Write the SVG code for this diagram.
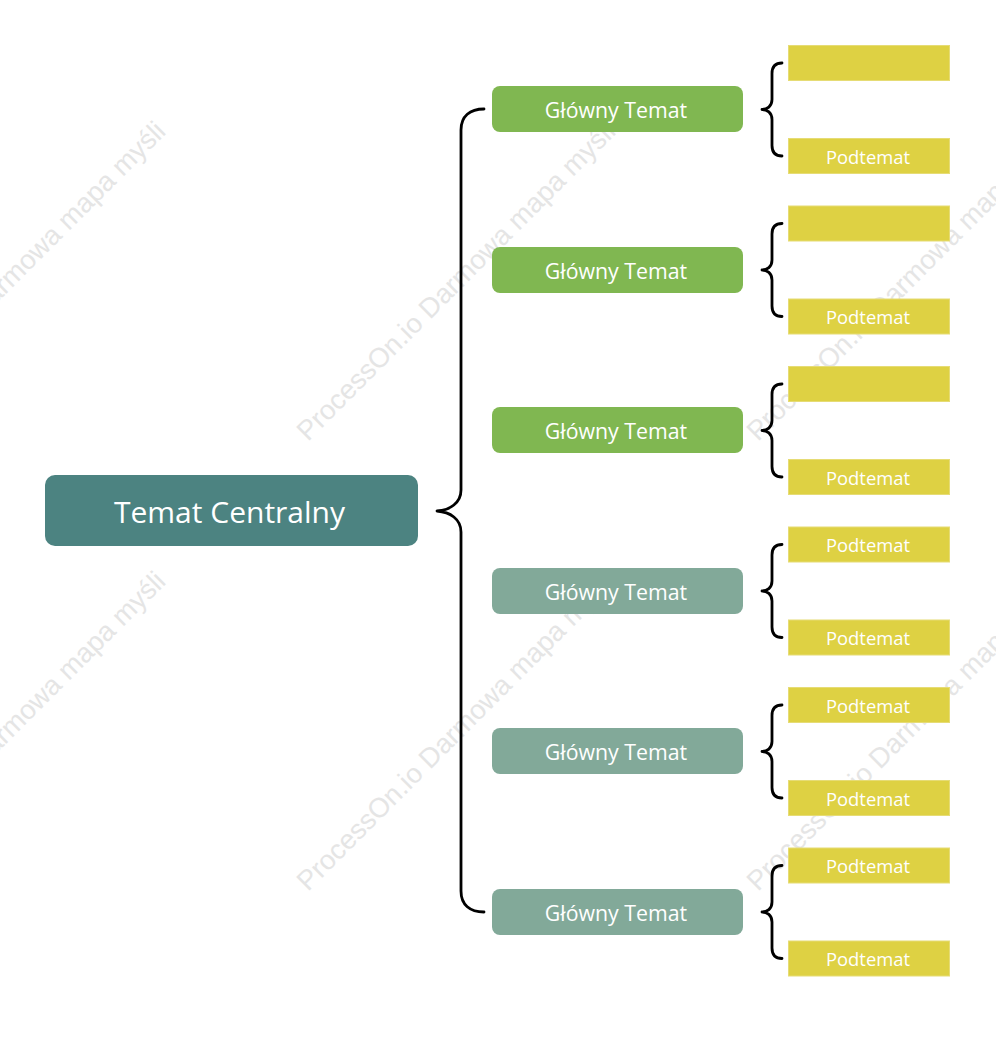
<svg xmlns="http://www.w3.org/2000/svg" xmlns:xlink="http://www.w3.org/1999/xlink" width="996" height="1037" viewBox="0 0 996 1037">
<style>
.wm{font-family:"Liberation Sans",Arial,sans-serif;font-size:27.5px;fill:#e5e5e5}
.central{fill:#4c8381}
.mainA{fill:#80b751}
.mainB{fill:#82a999}
.sub{fill:#ded143;stroke:#e6dc75;stroke-width:1}
.t{font-family:"Open Sans","Noto Sans",sans-serif;fill:#ffffff;text-anchor:middle;dominant-baseline:central}
.tc{font-size:30px}
.tm{font-size:21.3px}
.ts{font-size:18.4px}
.brace{fill:none;stroke:#000000;stroke-width:2.8;stroke-linecap:round;stroke-linejoin:round}
</style>
<defs>
<path id="sb" d="M782,-46.5 C775,-46.5 772,-43 772,-36 L772,-10 C772,-3 767,0 762,0 C767,0 772,3 772,10 L772,36 C772,43 775,46.5 782,46.5"/>
</defs>
<rect width="996" height="1037" fill="#ffffff"/>
<g id="watermarks">
<text class="wm" transform="translate(-142,442) rotate(-45)">ProcessOn.io Darmowa mapa myśli</text>
<text class="wm" transform="translate(308,442) rotate(-45)">ProcessOn.io Darmowa mapa myśli</text>
<text class="wm" transform="translate(758,442) rotate(-45)">ProcessOn.io Darmowa mapa myśli</text>
<text class="wm" transform="translate(-142,892) rotate(-45)">ProcessOn.io Darmowa mapa myśli</text>
<text class="wm" transform="translate(308,892) rotate(-45)">ProcessOn.io Darmowa mapa myśli</text>
<text class="wm" transform="translate(758,892) rotate(-45)">ProcessOn.io Darmowa mapa myśli</text>
</g>
<g id="connectors">
<path class="brace" d="M484,109 C470,109 461,116 461,130 L461,490 C461,503 450,510 437,511 C450,512 461,519 461,532 L461,891 C461,905 470,912 484,912"/>
<use class="brace" xlink:href="#sb" href="#sb" transform="translate(0,109.5)"/>
<use class="brace" xlink:href="#sb" href="#sb" transform="translate(0,270)"/>
<use class="brace" xlink:href="#sb" href="#sb" transform="translate(0,430.5)"/>
<use class="brace" xlink:href="#sb" href="#sb" transform="translate(0,591)"/>
<use class="brace" xlink:href="#sb" href="#sb" transform="translate(0,751.5)"/>
<use class="brace" xlink:href="#sb" href="#sb" transform="translate(0,912)"/>
</g>
<g id="central">
<rect class="central" x="45" y="475" width="373" height="71" rx="10"/>
<text class="t tc" x="229.5" y="511">Temat Centralny</text>
</g>
<g id="main1"><rect class="mainA" x="492" y="86" width="251" height="46" rx="8"/><text class="t tm" x="616" y="109">Główny Temat</text></g>
<g id="main2"><rect class="mainA" x="492" y="247" width="251" height="46" rx="8"/><text class="t tm" x="616" y="270">Główny Temat</text></g>
<g id="main3"><rect class="mainA" x="492" y="407" width="251" height="46" rx="8"/><text class="t tm" x="616" y="430">Główny Temat</text></g>
<g id="main4"><rect class="mainB" x="492" y="568" width="251" height="46" rx="8"/><text class="t tm" x="616" y="591">Główny Temat</text></g>
<g id="main5"><rect class="mainB" x="492" y="728" width="251" height="46" rx="8"/><text class="t tm" x="616" y="751">Główny Temat</text></g>
<g id="main6"><rect class="mainB" x="492" y="889" width="251" height="46" rx="8"/><text class="t tm" x="616" y="912">Główny Temat</text></g>
<g id="sub1a"><rect class="sub" x="788.5" y="45.5" width="161" height="35"/></g>
<g id="sub1b"><rect class="sub" x="788.5" y="138.5" width="161" height="35"/><text class="t ts" x="868" y="156">Podtemat</text></g>
<g id="sub2a"><rect class="sub" x="788.5" y="206" width="161" height="35"/></g>
<g id="sub2b"><rect class="sub" x="788.5" y="299" width="161" height="35"/><text class="t ts" x="868" y="316.5">Podtemat</text></g>
<g id="sub3a"><rect class="sub" x="788.5" y="366.5" width="161" height="35"/></g>
<g id="sub3b"><rect class="sub" x="788.5" y="459.5" width="161" height="35"/><text class="t ts" x="868" y="477">Podtemat</text></g>
<g id="sub4a"><rect class="sub" x="788.5" y="527" width="161" height="35"/><text class="t ts" x="868" y="544.5">Podtemat</text></g>
<g id="sub4b"><rect class="sub" x="788.5" y="620" width="161" height="35"/><text class="t ts" x="868" y="637.5">Podtemat</text></g>
<g id="sub5a"><rect class="sub" x="788.5" y="687.5" width="161" height="35"/><text class="t ts" x="868" y="705">Podtemat</text></g>
<g id="sub5b"><rect class="sub" x="788.5" y="780.5" width="161" height="35"/><text class="t ts" x="868" y="798">Podtemat</text></g>
<g id="sub6a"><rect class="sub" x="788.5" y="848" width="161" height="35"/><text class="t ts" x="868" y="865.5">Podtemat</text></g>
<g id="sub6b"><rect class="sub" x="788.5" y="941" width="161" height="35"/><text class="t ts" x="868" y="958.5">Podtemat</text></g>
</svg>
